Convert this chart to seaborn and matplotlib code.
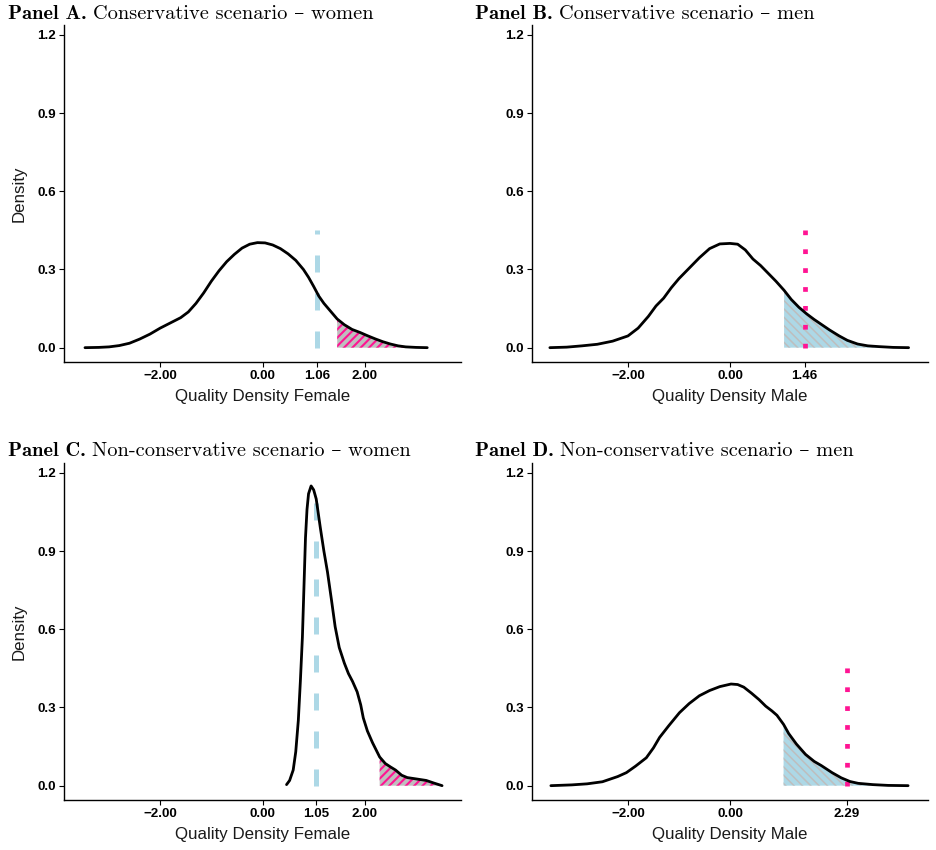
import numpy as np
import seaborn as sns
import matplotlib.pyplot as plt
from matplotlib.text import Annotation

# density curves (x, density)
a_x = [-3.47, -3.2, -3.0, -2.8, -2.6, -2.4, -2.2, -2.0, -1.8, -1.6, -1.45, -1.3, -1.15, -1.0, -0.85,
       -0.7, -0.55, -0.4, -0.25, -0.1, 0.05, 0.2, 0.35, 0.5, 0.65, 0.8, 0.9, 1.0, 1.1, 1.2, 1.33,
       1.46, 1.6, 1.75, 1.91, 2.05, 2.2, 2.35, 2.5, 2.65, 2.8, 3.0, 3.22]
a_y = [0.000, 0.001, 0.003, 0.008, 0.017, 0.033, 0.052, 0.075, 0.095, 0.115, 0.137, 0.170, 0.210,
       0.255, 0.295, 0.330, 0.358, 0.382, 0.397, 0.403, 0.402, 0.394, 0.380, 0.360, 0.335, 0.300,
       0.270, 0.235, 0.198, 0.170, 0.140, 0.110, 0.088, 0.070, 0.058, 0.046, 0.034, 0.023, 0.014,
       0.007, 0.003, 0.001, 0.000]

b_x = [-3.53, -3.2, -2.9, -2.6, -2.3, -2.0, -1.8, -1.6, -1.45, -1.3, -1.15, -1.0, -0.8, -0.6, -0.4,
       -0.2, 0.0, 0.15, 0.3, 0.45, 0.6, 0.75, 0.9, 1.06, 1.2, 1.35, 1.5, 1.65, 1.8, 1.95, 2.14, 2.3,
       2.5, 2.7, 2.92, 3.2, 3.5]
b_y = [0.000, 0.002, 0.007, 0.013, 0.025, 0.045, 0.075, 0.120, 0.160, 0.190, 0.230, 0.265, 0.305,
       0.345, 0.380, 0.398, 0.400, 0.397, 0.375, 0.340, 0.315, 0.285, 0.255, 0.220, 0.185, 0.155,
       0.130, 0.108, 0.088, 0.068, 0.045, 0.028, 0.014, 0.007, 0.004, 0.001, 0.000]

c_x = [0.47, 0.53, 0.6, 0.65, 0.7, 0.74, 0.78, 0.81, 0.84, 0.87, 0.9, 0.95, 1.0, 1.05, 1.13, 1.2,
       1.27, 1.35, 1.42, 1.5, 1.6, 1.68, 1.76, 1.85, 1.92, 1.97, 2.05, 2.15, 2.29, 2.4, 2.5, 2.6,
       2.72, 2.83, 3.0, 3.2, 3.35, 3.51]
c_y = [0.004, 0.020, 0.060, 0.130, 0.250, 0.400, 0.570, 0.760, 0.950, 1.060, 1.120, 1.150, 1.135,
       1.100, 0.990, 0.900, 0.820, 0.710, 0.610, 0.530, 0.470, 0.430, 0.400, 0.360, 0.310, 0.260,
       0.210, 0.165, 0.110, 0.085, 0.072, 0.060, 0.040, 0.031, 0.026, 0.020, 0.010, 0.000]

d_x = [-3.51, -3.1, -2.8, -2.5, -2.2, -2.03, -1.85, -1.64, -1.5, -1.38, -1.2, -0.99, -0.8, -0.6,
       -0.4, -0.2, 0.02, 0.15, 0.27, 0.42, 0.57, 0.7, 0.82, 0.92, 1.05, 1.15, 1.3, 1.48, 1.65, 1.79,
       2.0, 2.18, 2.35, 2.51, 2.8, 3.1, 3.49]
d_y = [0.000, 0.003, 0.007, 0.015, 0.035, 0.050, 0.075, 0.107, 0.145, 0.185, 0.230, 0.280, 0.315,
       0.345, 0.365, 0.380, 0.390, 0.388, 0.378, 0.355, 0.330, 0.305, 0.287, 0.270, 0.235, 0.200,
       0.160, 0.120, 0.093, 0.077, 0.050, 0.030, 0.016, 0.009, 0.004, 0.001, 0.000]

panel_ids = ["Panel A.", "Panel B.", "Panel C.", "Panel D."]
panel_titles = ["Conservative scenario – women", "Conservative scenario – men",
                "Non-conservative scenario – women", "Non-conservative scenario – men"]
x_labels = ["Quality Density Female", "Quality Density Male",
            "Quality Density Female", "Quality Density Male"]
thresholds = [1.06, 1.46, 1.05, 2.29]      # vertical line position
line_tops = [0.45, 0.45, 1.15, 0.50]       # vertical line height
fill_starts = [1.46, 1.06, 2.29, 1.05]     # start of hatched tail
x_ticks = [[-2, 0, 1.06, 2], [-2, 0, 1.46], [-2, 0, 1.05, 2], [-2, 0, 2.29]]
x_ticklabels = [["\u22122.00", "0.00", "1.06", "2.00"], ["\u22122.00", "0.00", "1.46"],
                ["\u22122.00", "0.00", "1.05", "2.00"], ["\u22122.00", "0.00", "2.29"]]
y_ticks = [0.0, 0.3, 0.6, 0.9, 1.2]
y_ticklabels = ["0.0", "0.3", "0.6", "0.9", "1.2"]

curves = [(a_x, a_y), (b_x, b_y), (c_x, c_y), (d_x, d_y)]

sns.set_theme(style="ticks")
plt.rcParams["font.family"] = ["Liberation Sans", "DejaVu Sans"]

fig = plt.figure(figsize=(9.36, 8.5), dpi=100)
W, H = 936, 850
boxes = [(64, 25, 461, 362), (532, 25, 928, 362), (64, 463, 461, 800), (532, 463, 928, 800)]
title_pos = [(8, 23), (475, 23), (8, 460), (475, 460)]

pink = "#FF1493"
lblue = "#ADD8E6"
grey = "#BEBEBE"

for i in range(4):
    l, t, r, b = boxes[i]
    ax = fig.add_axes([l / W, 1 - b / H, (r - l) / W, (b - t) / H])
    x = np.array(curves[i][0])
    y = np.array(curves[i][1])
    women = i in (0, 2)

    # hatched tail
    m = x >= fill_starts[i] - 1e-9
    if women:
        plt.rcParams["hatch.color"] = pink
        plt.rcParams["hatch.linewidth"] = 1.5
        ax.fill_between(x[m], 0, y[m], facecolor=grey, edgecolor=pink, hatch="////",
                        linewidth=0, zorder=1)
    else:
        plt.rcParams["hatch.color"] = grey
        plt.rcParams["hatch.linewidth"] = 1.1
        ax.fill_between(x[m], 0, y[m], facecolor=lblue, edgecolor=grey, hatch="\\" * 4,
                        linewidth=0, zorder=1)

    # threshold line
    if women:
        ax.plot([thresholds[i], thresholds[i]], [0, line_tops[i]], color=lblue, lw=3.6,
                linestyle=(0, (3.4, 4.2)), dash_capstyle="butt", zorder=2)
    else:
        ax.plot([thresholds[i], thresholds[i]], [0, line_tops[i]], color=pink, lw=3.4,
                linestyle=(0, (1, 3)), dash_capstyle="butt", zorder=2)

    sns.lineplot(x=x, y=y, ax=ax, color="black", lw=2.0, zorder=3)

    ax.set_xlim(-3.88, 3.88)
    ax.set_ylim(-0.055, 1.238)
    ax.set_xticks(x_ticks[i])
    ax.set_xticklabels(x_ticklabels[i], fontweight="bold", fontsize=9.6, color="black")
    ax.set_yticks(y_ticks)
    ax.set_yticklabels(y_ticklabels, fontweight="bold", fontsize=9.6, color="black")
    ax.tick_params(length=3.5, width=0.8, color="black", pad=2)
    ax.set_xlabel(x_labels[i], fontsize=12.2, color="#1a1a1a", labelpad=5)
    ax.set_ylabel("Density" if women else "", fontsize=12.2, color="#1a1a1a", labelpad=8)
    sns.despine(ax=ax)
    for s in ("left", "bottom"):
        ax.spines[s].set_linewidth(1.0)
        ax.spines[s].set_color("black")

    # panel heading: bold tag followed by regular serif text
    tx, ty = title_pos[i]
    t1 = fig.text(tx / W, 1 - ty / H, panel_ids[i], fontsize=14.7, family=["cmb10", "DejaVu Serif"],
                  ha="left", va="bottom", color="black")
    fig.add_artist(Annotation(panel_titles[i], xy=(1, 0), xycoords=t1, xytext=(4.5, 0),
                              textcoords="offset points", fontsize=14.7, ha="left", va="bottom",
                              family=["cmr10", "DejaVu Serif"], color="black", annotation_clip=False))

fig.savefig("out.png", dpi=100)
